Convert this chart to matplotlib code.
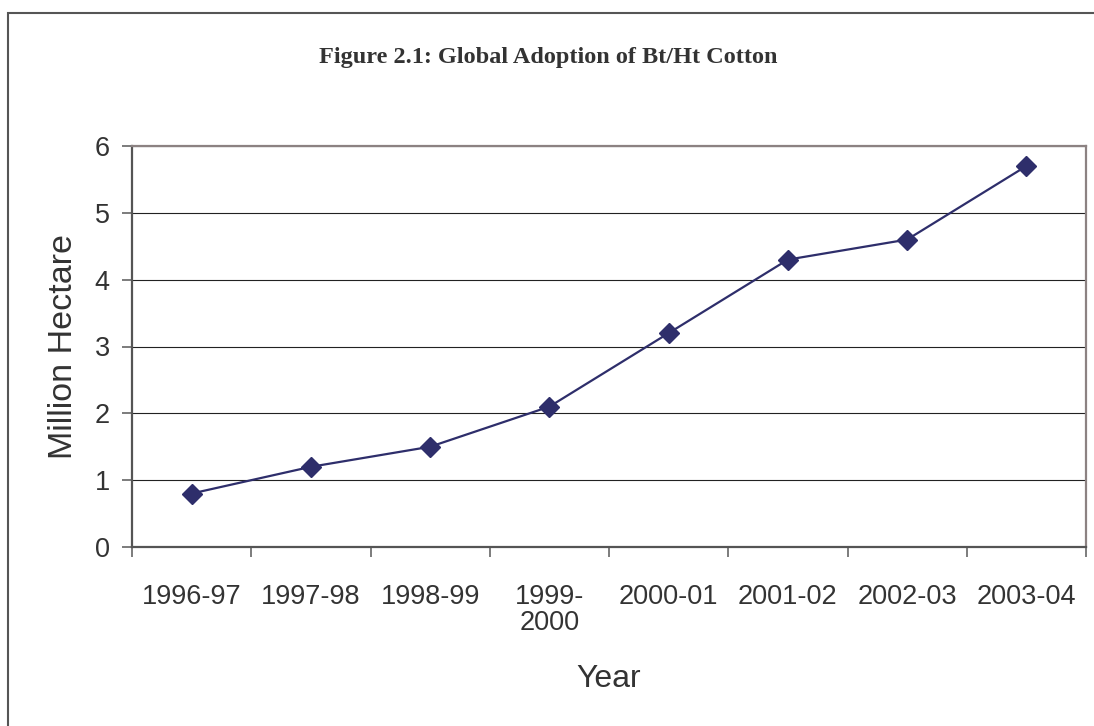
import matplotlib.pyplot as plt
from matplotlib.patches import Rectangle
import numpy as np

years = ['1996-97', '1997-98', '1998-99', '1999-\n2000', '2000-01', '2001-02', '2002-03', '2003-04']
area = [0.8, 1.2, 1.5, 2.1, 3.2, 4.3, 4.6, 5.7]  # million hectare

W, H = 1094, 726
fig = plt.figure(figsize=(W / 100, H / 100), dpi=100)
fig.patch.set_facecolor('white')

# outer frame (only left and top edges are visible)
fig.patches.append(Rectangle((7.5 / W, -0.2), 2.0, 1.2 - 12.5 / H,
                             transform=fig.transFigure, fill=False,
                             edgecolor='#555555', linewidth=1.5))

ax = fig.add_axes([132 / W, 1 - 547 / H, (1086 - 132) / W, (547 - 146) / H])

x = np.arange(len(years))
ax.plot(x, area, color='#2e2e6b', linewidth=1.6, marker='D', markersize=10,
        markerfacecolor='#2e2e6b', markeredgecolor='#2e2e6b', zorder=3)

ax.set_xlim(-0.5, len(years) - 0.5)
ax.set_ylim(0, 6)
ax.set_yticks(range(0, 7))
ax.yaxis.grid(True, color='#222222', linewidth=0.8)
ax.set_axisbelow(True)

# tick marks between categories, labels at the centres
ax.set_xticks(np.arange(-0.5, len(years), 1.0))
ax.set_xticklabels([])
ax.set_xticks(x, minor=True)
ax.set_xticklabels(years, minor=True, fontsize=19.5, color='#333333',
                   family='Liberation Sans', linespacing=0.97)
ax.tick_params(axis='x', which='minor', length=0, pad=27)
ax.tick_params(axis='x', which='major', length=7, width=1.2, color='#666666')
ax.tick_params(axis='y', length=7, width=1.2, color='#666666', labelsize=19.5,
               labelcolor='#333333', pad=9)
for lab in ax.get_yticklabels():
    lab.set_family('Liberation Sans')

for side in ['left', 'bottom']:
    ax.spines[side].set_color('#555555')
    ax.spines[side].set_linewidth(1.6)
for side in ['top', 'right']:
    ax.spines[side].set_color('#8c8282')
    ax.spines[side].set_linewidth(1.6)

ax.set_ylabel('Million Hectare', fontsize=24.5, family='Liberation Sans',
              color='#333333', labelpad=11)
ax.set_xlabel('Year', fontsize=23, family='Liberation Sans', color='#333333',
              labelpad=20)

fig.text(548 / W, 1 - 57 / H, 'Figure 2.1: Global Adoption of Bt/Ht Cotton',
         ha='center', va='center', fontsize=17.5, fontweight='bold',
         family='Liberation Serif', color='#333333')

fig.savefig('out.png', dpi=100, facecolor='white')
